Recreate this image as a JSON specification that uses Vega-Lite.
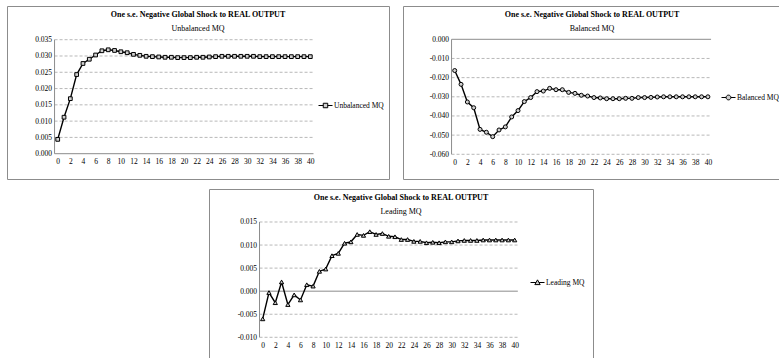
{
  "$schema": "https://vega.github.io/schema/vega-lite/v6.json",
  "padding": {"left": 6, "top": 5, "right": 0, "bottom": 0},
  "background": "#ffffff",
  "config": {
    "view": {"stroke": "#8c8c8c", "strokeWidth": 1},
    "axis": {"labelFont": "Liberation Serif", "labelFontSize": 7.5, "labelColor": "#000", "ticks": false, "domain": false, "grid": false, "labelOverlap": false, "labelFlush": false, "labelBound": false},
    "title": {"font": "Liberation Serif", "fontSize": 8, "fontWeight": "bold", "color": "#000", "subtitleFont": "Liberation Serif", "subtitleFontSize": 8, "subtitleColor": "#000", "subtitlePadding": 6, "anchor": "middle", "frame": "group", "offset": -27},
    "legend": {"labelFont": "Liberation Serif", "labelFontSize": 7.5, "labelColor": "#000", "labelOffset": 1, "padding": 0, "symbolSize": 196, "symbolStrokeWidth": 1, "symbolStrokeColor": "#000", "symbolFillColor": "#d0d0d0", "orient": "none", "title": null}
  },
  "datasets": {
    "unb": [
      {"t":0,"v":0.0044},{"t":1,"v":0.0112},{"t":2,"v":0.0169},{"t":3,"v":0.0243},{"t":4,"v":0.0277},{"t":5,"v":0.0290},{"t":6,"v":0.0303},{"t":7,"v":0.0316},{"t":8,"v":0.0319},{"t":9,"v":0.0317},{"t":10,"v":0.0313},{"t":11,"v":0.0310},{"t":12,"v":0.0305},{"t":13,"v":0.0302},{"t":14,"v":0.0299},{"t":15,"v":0.0298},{"t":16,"v":0.0297},{"t":17,"v":0.0296},{"t":18,"v":0.0296},{"t":19,"v":0.0295},{"t":20,"v":0.0295},{"t":21,"v":0.0295},{"t":22,"v":0.0296},{"t":23,"v":0.0296},{"t":24,"v":0.0297},{"t":25,"v":0.0298},{"t":26,"v":0.0299},{"t":27,"v":0.0299},{"t":28,"v":0.0299},{"t":29,"v":0.0299},{"t":30,"v":0.0299},{"t":31,"v":0.0299},{"t":32,"v":0.0298},{"t":33,"v":0.0298},{"t":34,"v":0.0298},{"t":35,"v":0.0298},{"t":36,"v":0.0298},{"t":37,"v":0.0298},{"t":38,"v":0.0298},{"t":39,"v":0.0298},{"t":40,"v":0.0298}
    ],
    "bal": [
      {"t":0,"v":-0.0163},{"t":1,"v":-0.0235},{"t":2,"v":-0.0327},{"t":3,"v":-0.0357},{"t":4,"v":-0.0470},{"t":5,"v":-0.0485},{"t":6,"v":-0.0508},{"t":7,"v":-0.0473},{"t":8,"v":-0.0457},{"t":9,"v":-0.0405},{"t":10,"v":-0.0372},{"t":11,"v":-0.0325},{"t":12,"v":-0.0304},{"t":13,"v":-0.0273},{"t":14,"v":-0.0270},{"t":15,"v":-0.0256},{"t":16,"v":-0.0263},{"t":17,"v":-0.0263},{"t":18,"v":-0.0277},{"t":19,"v":-0.0282},{"t":20,"v":-0.0292},{"t":21,"v":-0.0296},{"t":22,"v":-0.0304},{"t":23,"v":-0.0306},{"t":24,"v":-0.0310},{"t":25,"v":-0.0310},{"t":26,"v":-0.0310},{"t":27,"v":-0.0308},{"t":28,"v":-0.0308},{"t":29,"v":-0.0304},{"t":30,"v":-0.0304},{"t":31,"v":-0.0303},{"t":32,"v":-0.0301},{"t":33,"v":-0.0300},{"t":34,"v":-0.0300},{"t":35,"v":-0.0300},{"t":36,"v":-0.0300},{"t":37,"v":-0.0300},{"t":38,"v":-0.0300},{"t":39,"v":-0.0300},{"t":40,"v":-0.0300}
    ],
    "lead": [
      {"t":0,"v":-0.0060},{"t":1,"v":-0.0003},{"t":2,"v":-0.0025},{"t":3,"v":0.0020},{"t":4,"v":-0.0029},{"t":5,"v":-0.0008},{"t":6,"v":-0.0019},{"t":7,"v":0.0014},{"t":8,"v":0.0011},{"t":9,"v":0.0043},{"t":10,"v":0.0048},{"t":11,"v":0.0077},{"t":12,"v":0.0082},{"t":13,"v":0.0104},{"t":14,"v":0.0107},{"t":15,"v":0.0123},{"t":16,"v":0.0121},{"t":17,"v":0.0129},{"t":18,"v":0.0123},{"t":19,"v":0.0125},{"t":20,"v":0.0119},{"t":21,"v":0.0118},{"t":22,"v":0.0112},{"t":23,"v":0.0112},{"t":24,"v":0.0108},{"t":25,"v":0.0108},{"t":26,"v":0.0105},{"t":27,"v":0.0106},{"t":28,"v":0.0105},{"t":29,"v":0.0107},{"t":30,"v":0.0107},{"t":31,"v":0.0109},{"t":32,"v":0.0110},{"t":33,"v":0.0110},{"t":34,"v":0.0110},{"t":35,"v":0.0111},{"t":36,"v":0.0111},{"t":37,"v":0.0111},{"t":38,"v":0.0111},{"t":39,"v":0.0111},{"t":40,"v":0.0111}
    ],
    "grid1": [{"g":0.005},{"g":0.010},{"g":0.015},{"g":0.020},{"g":0.025},{"g":0.030},{"g":0.035}],
    "grid2": [{"g":-0.010},{"g":-0.020},{"g":-0.030},{"g":-0.040},{"g":-0.050},{"g":-0.060}],
    "grid3": [{"g":0.015},{"g":0.010},{"g":0.005},{"g":-0.005},{"g":-0.010}],
    "one": [{"k":1}]
  },
  "resolve": {"scale": {"color": "independent"}, "legend": {"color": "independent"}},
  "spacing": 8,
  "vconcat": [
    {
      "spacing": 12,
      "resolve": {"scale": {"color": "independent"}, "legend": {"color": "independent"}},
      "hconcat": [
        {
          "width": 382, "height": 173,
          "title": {"text": "One s.e. Negative Global Shock to REAL OUTPUT", "subtitle": "Unbalanced MQ", "subtitleColor": "#000000"},
          "resolve": {"axis": {"x": "independent", "y": "independent"}},
          "layer": [
            {"data": {"name": "grid1"}, "mark": {"type": "rule", "color": "#a6a6a6", "strokeDash": [3, 2], "strokeWidth": 0.8},
             "encoding": {"x": {"datum": -0.5, "type": "quantitative", "scale": {"domain": [-8.03, 52.46], "nice": false, "zero": false},
                                "axis": {"title": null, "values": [0,2,4,6,8,10,12,14,16,18,20,22,24,26,28,30,32,34,36,38,40], "offset": -25.3, "labelPadding": 4, "labelOverlap": false}},
                          "x2": {"datum": 40.5},
                          "y": {"field": "g", "type": "quantitative", "scale": {"domain": [-0.007768, 0.045347], "nice": false, "zero": false},
                                "axis": {"title": null, "values": [0,0.005,0.01,0.015,0.02,0.025,0.03,0.035], "offset": -47.5, "labelPadding": 3, "labelOverlap": false, "labelExpr": "(datum.value < 0 ? '-' : '') + format(abs(datum.value), '.3f')"}}}},
            {"data": {"name": "one"}, "mark": {"type": "rule", "color": "#8c8c8c", "strokeWidth": 1},
             "encoding": {"x": {"datum": -0.5, "type": "quantitative", "axis": null},
                          "y": {"datum": 0, "type": "quantitative", "axis": null}, "y2": {"datum": 0.035}}},
            {"data": {"name": "one"}, "mark": {"type": "rule", "color": "#8c8c8c", "strokeWidth": 1},
             "encoding": {"x": {"datum": -0.5, "type": "quantitative", "axis": null}, "x2": {"datum": 40.5},
                          "y": {"datum": 0, "type": "quantitative", "axis": null}}},
            {"data": {"name": "unb"}, "mark": {"type": "line", "strokeWidth": 1.4},
             "encoding": {
               "x": {"field": "t", "type": "quantitative", "axis": null},
               "y": {"field": "v", "type": "quantitative", "axis": null},
               "color": {"datum": "Unbalanced MQ", "scale": {"range": ["#000000"]},
                         "legend": {"legendX": 311, "legendY": 92, "symbolType": "M-1,0H-0.32M0.32,0H1M-0.32,-0.32H0.32V0.32H-0.32Z"}}
             }},
            {"data": {"name": "unb"}, "mark": {"type": "point", "shape": "square", "filled": true, "fill": "#d0d0d0", "stroke": "#000000", "strokeWidth": 1, "size": 14, "opacity": 1},
             "encoding": {"x": {"field": "t", "type": "quantitative", "axis": null},
                          "y": {"field": "v", "type": "quantitative", "axis": null}}}
          ]
        },
        {
          "width": 378, "height": 173,
          "title": {"text": "One s.e. Negative Global Shock to REAL OUTPUT", "subtitle": "Balanced MQ", "subtitleColor": "#000000"},
          "resolve": {"axis": {"x": "independent", "y": "independent"}},
          "layer": [
            {"data": {"name": "grid2"}, "mark": {"type": "rule", "color": "#a6a6a6", "strokeDash": [3, 2], "strokeWidth": 0.8},
             "encoding": {"x": {"datum": -0.5, "type": "quantitative", "scale": {"domain": [-8.17, 51.55], "nice": false, "zero": false},
                                "axis": {"title": null, "values": [0,2,4,6,8,10,12,14,16,18,20,22,24,26,28,30,32,34,36,38,40], "offset": -24.7, "labelPadding": 4, "labelOverlap": false}},
                          "x2": {"datum": 40.5},
                          "y": {"field": "g", "type": "quantitative", "scale": {"domain": [-0.072887, 0.017374], "nice": false, "zero": false},
                                "axis": {"title": null, "values": [0,-0.01,-0.02,-0.03,-0.04,-0.05,-0.06], "offset": -48.5, "labelPadding": 3, "labelOverlap": false, "labelExpr": "(datum.value < 0 ? '-' : '') + format(abs(datum.value), '.3f')"}}}},
            {"data": {"name": "one"}, "mark": {"type": "rule", "color": "#8c8c8c", "strokeWidth": 1},
             "encoding": {"x": {"datum": -0.5, "type": "quantitative", "axis": null},
                          "y": {"datum": -0.06, "type": "quantitative", "axis": null}, "y2": {"datum": 0}}},
            {"data": {"name": "one"}, "mark": {"type": "rule", "color": "#8c8c8c", "strokeWidth": 1},
             "encoding": {"x": {"datum": -0.5, "type": "quantitative", "axis": null}, "x2": {"datum": 40.5},
                          "y": {"datum": 0, "type": "quantitative", "axis": null}}},
            {"data": {"name": "bal"}, "mark": {"type": "line", "strokeWidth": 1.4},
             "encoding": {
               "x": {"field": "t", "type": "quantitative", "axis": null},
               "y": {"field": "v", "type": "quantitative", "axis": null},
               "color": {"datum": "Balanced MQ", "scale": {"range": ["#000000"]},
                         "legend": {"legendX": 318, "legendY": 84, "symbolType": "M-1,0H-0.34M0.34,0H1M-0.34,0A0.34,0.34 0 1,0 0.34,0A0.34,0.34 0 1,0 -0.34,0Z"}}
             }},
            {"data": {"name": "bal"}, "mark": {"type": "point", "shape": "circle", "filled": true, "fill": "#d0d0d0", "stroke": "#000000", "strokeWidth": 1, "size": 16, "opacity": 1},
             "encoding": {"x": {"field": "t", "type": "quantitative", "axis": null},
                          "y": {"field": "v", "type": "quantitative", "axis": null}}}
          ]
        }
      ]
    },
    {
      "spacing": 10,
      "resolve": {"scale": {"color": "independent"}, "legend": {"color": "independent"}},
      "hconcat": [
        {
          "width": 191, "height": 10,
          "view": {"stroke": null},
          "data": {"name": "one"},
          "mark": {"type": "text", "text": ""},
          "encoding": {}
        },
        {
          "width": 384, "height": 172,
          "title": {"text": "One s.e. Negative Global Shock to REAL OUTPUT", "subtitle": "Leading MQ", "subtitleColor": "#000000"},
          "resolve": {"axis": {"x": "independent", "y": "independent"}},
          "layer": [
            {"data": {"name": "grid3"}, "mark": {"type": "rule", "color": "#a6a6a6", "strokeDash": [3, 2], "strokeWidth": 0.8},
             "encoding": {"x": {"datum": -0.5, "type": "quantitative", "scale": {"domain": [-8.52, 52.43], "nice": false, "zero": false},
                                "axis": {"title": null, "values": [0,2,4,6,8,10,12,14,16,18,20,22,24,26,28,30,32,34,36,38,40], "offset": -23.7, "labelPadding": 4, "labelOverlap": false}},
                          "x2": {"datum": 40.5},
                          "y": {"field": "g", "type": "quantitative", "scale": {"domain": [-0.015138, 0.022154], "nice": false, "zero": false},
                                "axis": {"title": null, "values": [0.015,0.01,0.005,0,-0.005,-0.01], "offset": -50.5, "labelPadding": 3, "labelOverlap": false, "labelExpr": "(datum.value < 0 ? '-' : '') + format(abs(datum.value), '.3f')"}}}},
            {"data": {"name": "one"}, "mark": {"type": "rule", "color": "#8c8c8c", "strokeWidth": 1},
             "encoding": {"x": {"datum": -0.5, "type": "quantitative", "axis": null},
                          "y": {"datum": -0.01, "type": "quantitative", "axis": null}, "y2": {"datum": 0.015}}},
            {"data": {"name": "one"}, "mark": {"type": "rule", "color": "#8c8c8c", "strokeWidth": 1},
             "encoding": {"x": {"datum": -0.5, "type": "quantitative", "axis": null}, "x2": {"datum": 40.5},
                          "y": {"datum": 0, "type": "quantitative", "axis": null}}},
            {"data": {"name": "lead"}, "mark": {"type": "line", "strokeWidth": 1.4},
             "encoding": {
               "x": {"field": "t", "type": "quantitative", "axis": null},
               "y": {"field": "v", "type": "quantitative", "axis": null},
               "color": {"datum": "Leading MQ", "scale": {"range": ["#000000"]},
                         "legend": {"legendX": 321, "legendY": 86, "symbolType": "M-1,0H-0.21M0.21,0H1M0,-0.38L0.38,0.3H-0.38Z"}}
             }},
            {"data": {"name": "lead"}, "mark": {"type": "point", "shape": "triangle-up", "filled": true, "fill": "#d0d0d0", "stroke": "#000000", "strokeWidth": 1, "size": 18, "opacity": 1},
             "encoding": {"x": {"field": "t", "type": "quantitative", "axis": null},
                          "y": {"field": "v", "type": "quantitative", "axis": null}}}
          ]
        }
      ]
    }
  ]
}
